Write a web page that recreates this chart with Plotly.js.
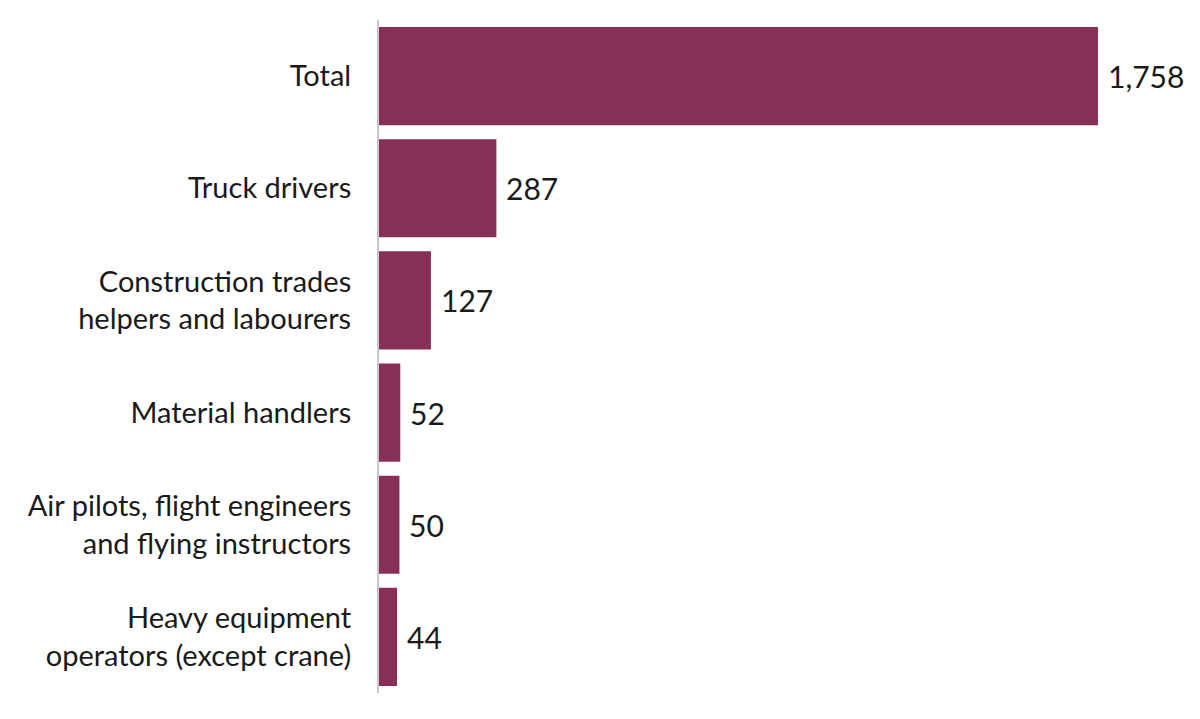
<!DOCTYPE html>
<html>
<head>
<meta charset="utf-8">
<script src="https://cdn.plot.ly/plotly-3.0.1.min.js"></script>
<style>html,body{margin:0;padding:0;background:#fff;}#chart{width:1200px;height:719px;}</style>
</head>
<body>
<div id="chart"></div>
<script>
const categories = [
  "Total",
  "Truck drivers",
  "Construction trades<br>helpers and labourers",
  "Material handlers",
  "Air pilots, flight engineers<br>and flying instructors",
  "Heavy equipment<br>operators (except crane)"
];
const values = [1758, 287, 127, 52, 50, 44];
const valueLabels = ["1,758", "287", "127", "52", "50", "44"];

const barColor = "#872f57";
const textFont = {family: "Lato, 'Open Sans', sans-serif", size: 29, color: "#1a1a1a"};
const valueFont = {family: "Lato, 'Open Sans', sans-serif", size: 30, color: "#1a1a1a"};

const trace = {
  type: "bar",
  orientation: "h",
  x: values,
  y: categories,
  marker: {color: barColor, line: {width: 0}},
  hoverinfo: "none",
  width: 0.875
};

const annotations = values.map((v, i) => ({
  x: v, y: categories[i], xref: "x", yref: "y",
  text: valueLabels[i], showarrow: false,
  xanchor: "left", yanchor: "middle", xshift: 8,
  font: valueFont
}));

const layout = {
  width: 1200, height: 719,
  margin: {l: 379, r: 10, t: 20, b: 26},
  paper_bgcolor: "#fff", plot_bgcolor: "#fff",
  showlegend: false,
  bargap: 0.125,
  xaxis: {range: [0, 1983], visible: false, showgrid: false, zeroline: false, fixedrange: true},
  yaxis: {
    autorange: "reversed", showgrid: false, zeroline: false,
    showline: true, linecolor: "#c8c8c8", linewidth: 2,
    ticks: "", ticklabelstandoff: 20, tickfont: textFont,
    categoryorder: "array", categoryarray: categories
  },
  annotations: annotations
};

Plotly.newPlot("chart", [trace], layout, {displayModeBar: false, staticPlot: true});
</script>
</body>
</html>
